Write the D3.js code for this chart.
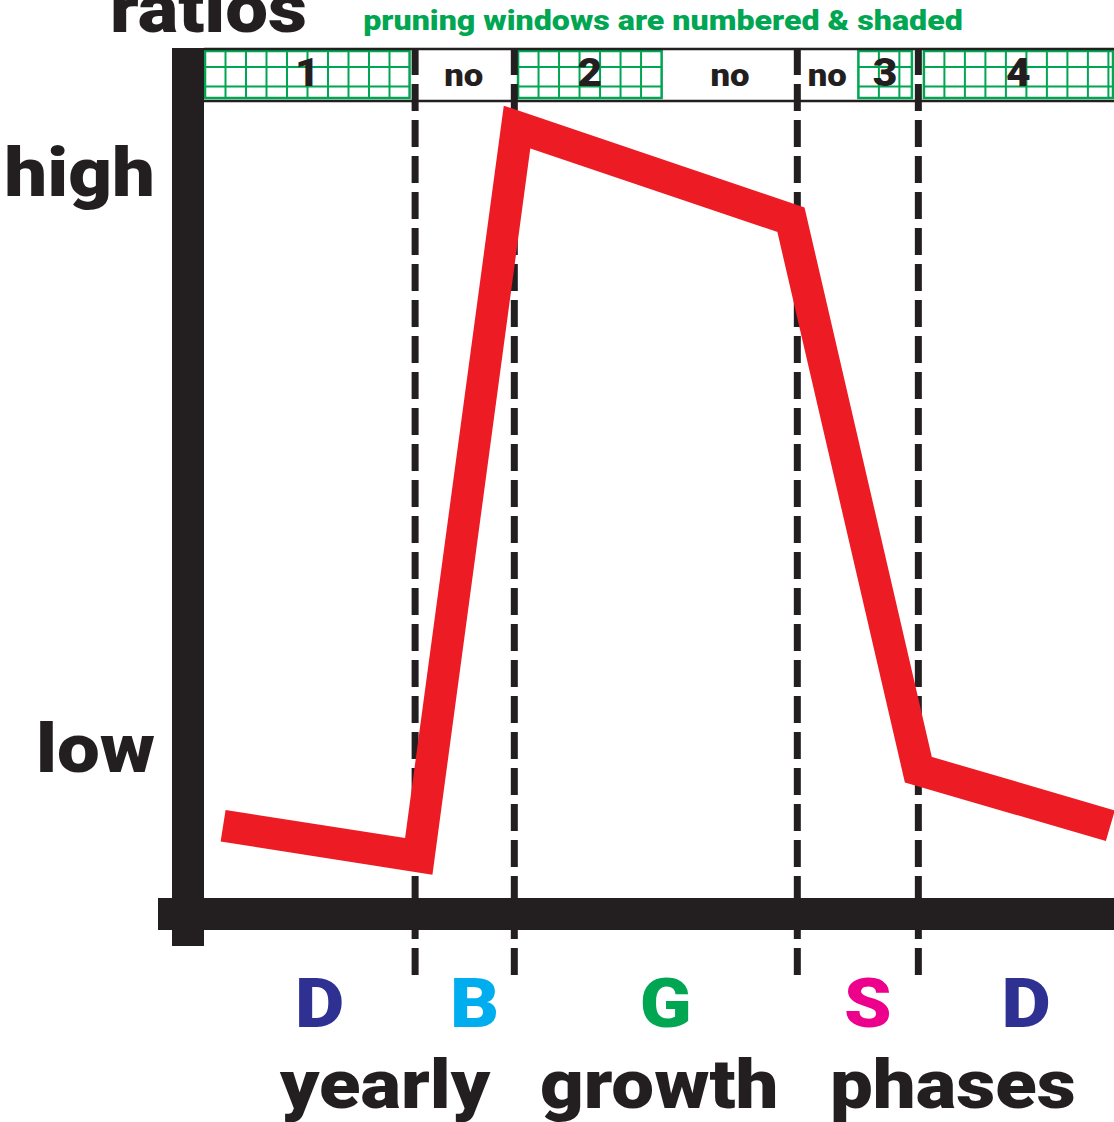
<!DOCTYPE html>
<html><head><meta charset="utf-8">
<script src="https://cdn.jsdelivr.net/npm/d3@7"></script>
<style>
html,body{margin:0;padding:0;background:#fff;overflow:hidden;}
svg{display:block;}
text{font-family:"Roboto","Liberation Sans",Arial,sans-serif;font-weight:900;}
</style></head><body>
<svg id="chart" width="1114" height="1122"></svg>
<script>
// ---- data (x = position in the yearly cycle, 0..100; y = relative ratio, 0..100) ----
const lineSeasonX = [2.1, 23.6, 34.4, 64.5, 78.5, 99.6];
const lineRatios  = [8.5, 4.9, 90.7, 79.8, 15.1, 8.5];

const phaseLabels = ["D", "B", "G", "S", "D"];
const phaseColors = ["#2E3192", "#00AEEF", "#00A651", "#EC008C", "#2E3192"];
const phaseBounds = [0, 23.2, 34.1, 65.2, 78.5, 100];

const windowLabels = ["1", "no", "2", "no", "no", "3", "4"];
const windowShaded = [true, false, true, false, false, true, true];
const windowStart  = [0, 22.7, 34.4, 50.4, 65.2, 71.8, 79.0];
const windowEnd    = [22.7, 34.4, 50.4, 65.2, 71.8, 77.9, 100];

const yTickLabels = ["low", "high"];
const yTickValues = [17.4, 85.2];

const titleText = "ratios";
const noteText = "pruning windows are numbered & shaded";
const xTitleWords = ["yearly", "growth", "phases"];

// ---- setup ----
const BLACK = "#231F20", RED = "#ED1C24", GREEN = "#00A651";
const STRETCH = 1.12;
const svg = d3.select("#chart");
const x = d3.scaleLinear().domain([0, 100]).range([204, 1114]);
const y = d3.scaleLinear().domain([0, 100]).range([898, 48]);

function stretch(sel, k) {
  sel.attr("transform", function() {
    const tx = +this.getAttribute("x") || 0, ty = +this.getAttribute("y") || 0;
    return `translate(${tx},${ty}) scale(${k},1) translate(${-tx},${-ty})`;
  });
}

// ---- pruning window band ----
const bandTop = 49, bandBot = 101;
const band = svg.append("g");
const windows = windowLabels.map((l, i) => ({label: l, shaded: windowShaded[i], x0: windowStart[i], x1: windowEnd[i]}));

const shaded = band.selectAll("g.win").data(windows.filter(d => d.shaded)).join("g").attr("class", "win");
shaded.append("rect")
  .attr("x", d => x(d.x0) + 1).attr("y", 51)
  .attr("width", d => x(d.x1) - x(d.x0) - 2).attr("height", 47)
  .attr("fill", "#fff").attr("stroke", GREEN).attr("stroke-width", 2.5);
shaded.each(function(d) {
  const g = d3.select(this);
  const x0 = x(d.x0) + 1, x1 = x(d.x1) - 1;
  g.selectAll("line.h").data([67, 86.5]).join("line").attr("class", "h")
    .attr("x1", x0).attr("x2", x1).attr("y1", v => v).attr("y2", v => v)
    .attr("stroke", GREEN).attr("stroke-width", 2);
  g.selectAll("line.v").data(d3.range(x0 + 20.5, x1 - 4, 20.5)).join("line").attr("class", "v")
    .attr("x1", v => v).attr("x2", v => v).attr("y1", 51).attr("y2", 98)
    .attr("stroke", GREEN).attr("stroke-width", 2);
});

band.append("line").attr("x1", x(0)).attr("x2", x(100)).attr("y1", bandTop).attr("y2", bandTop)
  .attr("stroke", BLACK).attr("stroke-width", 2.5);
band.append("line").attr("x1", x(0)).attr("x2", x(100)).attr("y1", bandBot).attr("y2", bandBot)
  .attr("stroke", BLACK).attr("stroke-width", 2.5);

band.selectAll("text.wl").data(windows).join("text").attr("class", "wl")
  .attr("x", d => (x(d.x0) + x(d.x1)) / 2)
  .attr("y", 86)
  .attr("text-anchor", "middle")
  .attr("fill", BLACK)
  .style("font-size", d => d.label === "no" ? "31px" : "38px")
  .text(d => d.label)
  .call(stretch, STRETCH);

// ---- phase boundary dashed lines ----
svg.append("g").selectAll("line").data(phaseBounds.slice(1, -1)).join("line")
  .attr("x1", d => x(d)).attr("x2", d => x(d))
  .attr("y1", 48).attr("y2", 975)
  .attr("stroke", BLACK).attr("stroke-width", 7)
  .attr("stroke-dasharray", "27,9");

// ---- axes (thick bars) ----
svg.append("line").attr("x1", 188).attr("x2", 188).attr("y1", y(100)).attr("y2", 946)
  .attr("stroke", BLACK).attr("stroke-width", 32);
svg.append("line").attr("x1", 158).attr("x2", x(100)).attr("y1", y(0) + 16).attr("y2", y(0) + 16)
  .attr("stroke", BLACK).attr("stroke-width", 32);

// ---- red line ----
const pts = lineSeasonX.map((v, i) => [v, lineRatios[i]]);
svg.append("path").datum(pts)
  .attr("d", d3.line().x(d => x(d[0])).y(d => y(d[1])))
  .attr("fill", "none").attr("stroke", RED).attr("stroke-width", 32)
  .attr("stroke-linejoin", "miter").attr("stroke-miterlimit", 10).attr("stroke-linecap", "butt");

// ---- y axis labels ----
const yAxis = svg.append("g").attr("transform", "translate(155,0)")
  .call(d3.axisLeft(y).tickValues(yTickValues).tickFormat((d, i) => yTickLabels[i]).tickSize(0).tickPadding(0));
yAxis.select(".domain").remove();
yAxis.attr("font-family", null).attr("font-size", null).attr("color", BLACK);
yAxis.selectAll("text").style("font-size", "68px").style("font-weight", 900)
  .attr("transform", `scale(${STRETCH},1)`);

// ---- titles ----
svg.append("text").attr("x", 110).attr("y", 32).attr("fill", BLACK)
  .style("font-size", "68px").text(titleText).call(stretch, STRETCH);
svg.append("text").attr("x", 663).attr("y", 30).attr("text-anchor", "middle").attr("fill", GREEN)
  .style("font-size", "28px").text(noteText).call(stretch, 1.15);

// ---- phase letters ----
const phases = phaseLabels.map((l, i) => ({label: l, color: phaseColors[i], x0: phaseBounds[i], x1: phaseBounds[i + 1]}));
svg.append("g").selectAll("text").data(phases).join("text")
  .attr("x", d => (x(d.x0) + x(d.x1)) / 2 + 10)
  .attr("y", 1027)
  .attr("text-anchor", "middle")
  .attr("fill", d => d.color)
  .style("font-size", "68px")
  .text(d => d.label)
  .call(stretch, STRETCH);

// ---- x title ----
const xTitleStart = [280, 540, 830];
svg.append("g").selectAll("text").data(xTitleWords).join("text")
  .attr("x", (d, i) => xTitleStart[i]).attr("y", 1108)
  .attr("fill", BLACK).style("font-size", "68px")
  .text(d => d)
  .call(stretch, STRETCH);
</script>
</body></html>
